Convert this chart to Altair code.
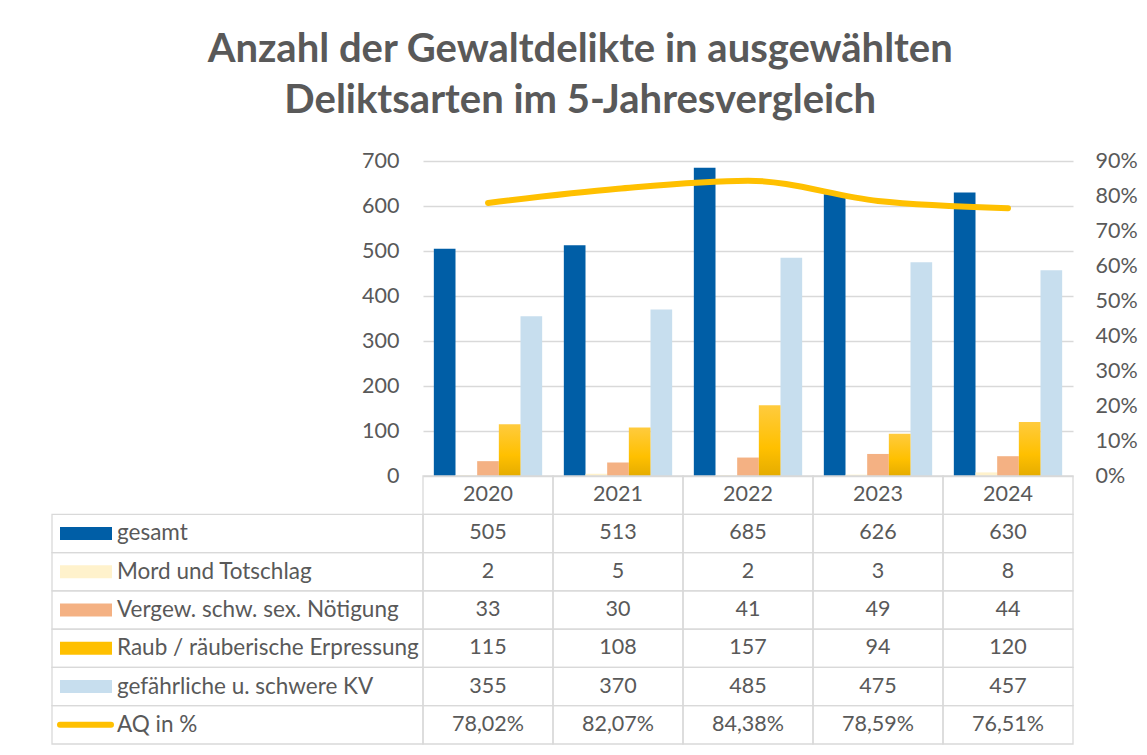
import altair as alt
import pandas as pd

# ---------------- data ----------------
years = ["2020", "2021", "2022", "2023", "2024"]
series = [
    "gesamt",
    "Mord und Totschlag",
    "Vergew. schw. sex. Nötigung",
    "Raub / räuberische Erpressung",
    "gefährliche u. schwere KV",
]
gesamt = [505, 513, 685, 626, 630]
mord = [2, 5, 2, 3, 8]
vergew = [33, 30, 41, 49, 44]
raub = [115, 108, 157, 94, 120]
kv = [355, 370, 485, 475, 457]
aq_label = "AQ in %"
aq = [78.02, 82.07, 84.38, 78.59, 76.51]

left_ticks = [0, 100, 200, 300, 400, 500, 600, 700]
right_ticks = [0, 0.1, 0.2, 0.3, 0.4, 0.5, 0.6, 0.7, 0.8, 0.9]

colors = ["#005EA6", "#FFF2CC", "#F4B183", "#FFC000", "#C7DEEE"]
AQ_COLOR = "#FFC000"

FONT = "Lato"
TXT = "#595959"
GRID = "#D9D9D9"
FS_NUM = 21.5
FS_LBL = 22.5

W_LBL = 371
W = 650
H = 315
H_T = 268

all_vals = [gesamt, mord, vergew, raub, kv]

bar_rows = []
for s, vals in zip(series, all_vals):
    for y, v in zip(years, vals):
        bar_rows.append({"Jahr": y, "Reihe": s, "Wert": v})
bars_df = pd.DataFrame(bar_rows)
aq_df = pd.DataFrame({"Jahr": years, "AQ": [v / 100 for v in aq]})

row_keys = ["hdr"] + series + [aq_label]
tbl = []
for y in years:
    tbl.append({"Zeile": "hdr", "Jahr": y, "Text": y})
for s, vals in zip(series, all_vals):
    for y, v in zip(years, vals):
        tbl.append({"Zeile": s, "Jahr": y, "Text": str(v)})
for y, v in zip(years, aq):
    tbl.append({"Zeile": aq_label, "Jahr": y, "Text": f"{v:.2f}".replace(".", ",") + "%"})
tbl_df = pd.DataFrame(tbl)
lbl_df = pd.DataFrame({"Zeile": series + [aq_label], "Art": ["bar"] * 5 + ["line"]})

# ---------------- encodings ----------------
x_year = alt.X("Jahr:N", scale=alt.Scale(domain=years, paddingInner=0, paddingOuter=0), axis=None)
xoff = alt.XOffset("Reihe:N", scale=alt.Scale(domain=series, paddingInner=0, paddingOuter=0.5))
color_scale = alt.Scale(domain=series, range=colors)
y_row = alt.Y("Zeile:N", scale=alt.Scale(domain=row_keys, paddingInner=0, paddingOuter=0), axis=None)
y_count_scale = alt.Scale(domain=[0, 700], nice=False)

# ---------------- top chart ----------------
bars = alt.Chart(bars_df).transform_filter(
    alt.datum.Reihe != series[3]
).mark_bar().encode(
    x=x_year,
    xOffset=xoff,
    y=alt.Y(
        "Wert:Q",
        scale=y_count_scale,
        axis=alt.Axis(
            orient="left", values=left_ticks, title=None, grid=True, gridColor=GRID,
            gridWidth=1.3, domain=False, ticks=False, labelPadding=24,
            labelFont=FONT, labelFontSize=FS_NUM, labelColor=TXT,
        ),
    ),
    color=alt.Color("Reihe:N", scale=color_scale, legend=None),
)

raub_grad = alt.LinearGradient(
    gradient="linear", x1=0, y1=0, x2=0, y2=1,
    stops=[
        alt.GradientStop(color="#FFCB3E", offset=0),
        alt.GradientStop(color="#FFC000", offset=0.6),
        alt.GradientStop(color="#E5AC00", offset=1),
    ],
)
raub_bars = alt.Chart(bars_df).transform_filter(
    alt.datum.Reihe == series[3]
).mark_bar(color=raub_grad).encode(
    x=x_year,
    xOffset=xoff,
    y=alt.Y("Wert:Q", scale=y_count_scale),
)

line = alt.Chart(aq_df).mark_line(
    color=AQ_COLOR, strokeWidth=6, strokeCap="round", strokeJoin="round", interpolate="monotone"
).encode(
    x=x_year,
    y=alt.Y(
        "AQ:Q",
        scale=alt.Scale(domain=[0, 0.9], nice=False),
        axis=alt.Axis(
            orient="right", values=right_ticks, format=".0%", title=None, grid=False,
            domain=False, ticks=False, labelPadding=22,
            labelFont=FONT, labelFontSize=FS_NUM, labelColor=TXT,
        ),
    ),
)

bar_layer = alt.layer(bars, raub_bars)
top = alt.layer(bar_layer, line).resolve_scale(y="independent").properties(width=W, height=H)

spacer = alt.Chart(pd.DataFrame({"a": [0]})).mark_point(opacity=0).encode(
    x=alt.value(0), y=alt.value(0)
).properties(width=W_LBL, height=H)

# ---------------- table: labels ----------------
lbl_cells = alt.Chart(lbl_df).mark_rect(fill="#ffffff", fillOpacity=0, stroke=GRID, strokeWidth=1.3).encode(
    x=alt.value(0), x2=alt.value("width"), y=y_row
)
swatch = alt.Chart(lbl_df).transform_filter(
    (alt.datum.Art == "bar") & (alt.datum.Zeile != series[3])
).mark_rule(strokeWidth=13, strokeCap="butt").encode(
    x=alt.value(8), x2=alt.value(60), y=y_row,
    color=alt.Color("Zeile:N", scale=color_scale, legend=None),
)
swatch_raub = alt.Chart(lbl_df).transform_filter(alt.datum.Zeile == series[3]).mark_rule(
    strokeWidth=13, strokeCap="butt", color="#FFC000"
).encode(x=alt.value(8), x2=alt.value(60), y=y_row)
swatch_line = alt.Chart(lbl_df).transform_filter(alt.datum.Art == "line").mark_rule(
    strokeWidth=6, strokeCap="round", color=AQ_COLOR
).encode(x=alt.value(8), x2=alt.value(59), y=y_row)
lbl_text = alt.Chart(lbl_df).mark_text(
    align="left", baseline="middle", font=FONT, fontSize=FS_LBL, color=TXT
).encode(x=alt.value(65), y=y_row, text="Zeile:N")

labels = alt.layer(lbl_cells, swatch, swatch_raub, swatch_line, lbl_text).properties(width=W_LBL, height=H_T)

# ---------------- table: values ----------------
cells = alt.Chart(tbl_df).mark_rect(fill="#ffffff", fillOpacity=0, stroke=GRID, strokeWidth=1.3).encode(
    x=x_year, y=y_row
)
cell_text = alt.Chart(tbl_df).mark_text(
    align="center", baseline="middle", font=FONT, fontSize=FS_NUM, color=TXT
).encode(x=x_year, y=y_row, text="Text:N")
values = alt.layer(cells, cell_text).properties(width=W, height=H_T)

chart = alt.concat(
    spacer, top, labels, values, columns=2, spacing=0, bounds="flush"
).properties(
    title=alt.TitleParams(
        text=["Anzahl der Gewaltdelikte in ausgewählten", "Deliktsarten im 5-Jahresvergleich"],
        font=FONT, fontSize=40, fontWeight="bold", color=TXT, lineHeight=51,
        anchor="middle", offset=29, dx=-13,
    ),
    padding={"left": 40, "top": 21, "right": 0, "bottom": 0},
    background="#ffffff",
).configure_view(stroke="transparent")

chart.save("out.html", embed_options={"renderer": "svg", "actions": False})
